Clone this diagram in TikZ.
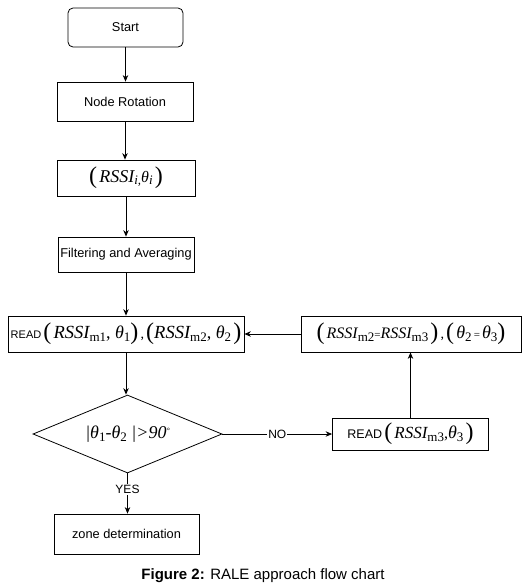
\documentclass[tikz,border=0pt]{standalone}
\usepackage{fontspec}
\setmainfont{Liberation Sans}
\newfontfamily\tms{Liberation Serif}
\usetikzlibrary{arrows.meta,shapes.geometric}
\newcommand\fsz[1]{\fontsize{#1}{#1}\selectfont}
\newcommand\bpar[1]{{\tms\fsz{24}\raisebox{-1pt}{#1}}}
\newcommand\subx[1]{{\tms\upshape\fsz{13}\raisebox{-3pt}{#1}}}
\newcommand\rssi[1]{{\tms\itshape RSSI}\subx{#1}}
\newcommand\thx[1]{{\tms\itshape θ}\subx{#1}}
\begin{document}
\begin{tikzpicture}[x=1pt,y=-1pt,
  bx/.style={draw=black, line width=0.8pt, inner sep=0pt, fill=white, font=\fsz{12.8}},
  arr/.style={draw=black, line width=0.8pt, -{Stealth[length=6.5pt,width=5.5pt]}},
  lab/.style={fill=white, inner sep=1pt, font=\fsz{12}}]
\useasboundingbox (0,0) rectangle (527,587);
\node[bx, rounded corners=5pt, minimum width=115, minimum height=39] (start) at (125.5,27.5) {Start};
\node[bx, minimum width=136, minimum height=39] (rot) at (125,101.5) {Node Rotation};
\node[bx, minimum width=138, minimum height=36] (rssi) at (126,178) {\bpar{(}\,{\tms\fsz{18}\itshape RSSI\fsz{13}\raisebox{-2pt}{i,}\fsz{16}θ\fsz{13}\raisebox{-2pt}{i}}\,\bpar{)}};
\node[bx, minimum width=136, minimum height=35] (filt) at (126,254.5) {Filtering and Averaging};
\node[bx, minimum width=236, minimum height=36] (read1) at (126,334) {{\fsz{11}READ}\,\bpar{(}\,{\fsz{18.5}\rssi{m1}}{\tms\fsz{18}, }{\fsz{18}\thx{1}}\bpar{)}\,{\tms\fsz{14},}\,\bpar{(}{\fsz{18.5}\rssi{m2}}{\tms\fsz{18}, }{\fsz{18}\thx{2}}\,\bpar{)}};
\node[bx, minimum width=220, minimum height=36] (upd) at (411,334) {\bpar{(}\,{\fsz{16}\rssi{m2}}{\tms\fsz{11}=}{\fsz{16}\rssi{m3}}\,\bpar{)}\,{\tms\fsz{14},}\,\bpar{(}\,{\fsz{18}\thx{2}}\,{\tms\fsz{11}=}\,{\fsz{18}\thx{3}}\bpar{)}};
\node[bx, shape=diamond, shape aspect=2.42, minimum width=189, minimum height=78] (dia) at (127.5,434) {{\tms\itshape\fsz{18}|θ\subx{1}-θ\subx{2} |>90\raisebox{5pt}{\fsz{8}°}}};
\node[bx, minimum width=156, minimum height=32] (read3) at (410.5,434) {{\fsz{12.5}READ}\,\bpar{(}\,{\fsz{17}\rssi{m3}}{\tms\fsz{16},}{\fsz{18}\thx{3}}\,\bpar{)}};
\node[bx, minimum width=145, minimum height=40] (zone) at (126.5,534) {zone determination};
\node[font=\fsz{15}] (cap) at (263,576) {\textbf{Figure 2:} RALE approach flow chart};
\draw[arr] (start.south) -- (start.south |- rot.north);
\draw[arr] (rot.south) -- (rot.south |- rssi.north);
\draw[arr] (rssi.south) -- (rssi.south |- filt.north);
\draw[arr] (filt.south) -- (filt.south |- read1.north);
\draw[arr] (read1.south) -- (read1.south |- dia.north);
\draw[arr] (dia.east) -- node[lab]{NO} (read3.west);
\draw[arr] (read3.north) -- (read3.north |- upd.south);
\draw[arr] (upd.west) -- (read1.east);
\draw[arr] (dia.south) -- node[lab, pos=0.4]{YES} (dia.south |- zone.north);
\end{tikzpicture}
\end{document}
